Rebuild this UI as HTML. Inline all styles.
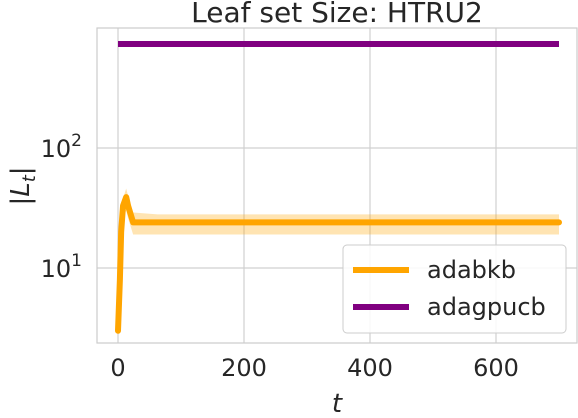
<!DOCTYPE html>
<html><head><meta charset="utf-8"><style>
html,body{margin:0;padding:0;background:#fff;}
svg{display:block;font-family:"DejaVu Sans","Liberation Sans",sans-serif;}
</style></head><body>
<svg id="chart" width="578" height="418" viewBox="0 0 578 418"></svg>
<script>
const xTicks=[0,200,400,600];
const yTicks=[10,100];
const yTickExp=["1","2"];
const tAdabkb=[0,3,5,8,13,16,24,63,700];
const vAdabkb=[3,8,20,33,39,33,24,24,24];
const bandLo=[3,7,17,27,30,26,19,19,19];
const bandHi=[3,9,24,38,46,40,29,28,28];
const tAdagpucb=[0,700];
const vAdagpucb=[735,735];
const ns="http://www.w3.org/2000/svg";
const svg=document.getElementById('chart');
const L=97,R=577,T=28,B=343;
const xs=t=>118+t*0.63;
const ys=v=>268-(Math.log10(v)-1)*120;
function mk(tag,attrs,parent){const e=document.createElementNS(ns,tag);for(const k in attrs)e.setAttribute(k,attrs[k]);(parent||svg).appendChild(e);return e;}
xTicks.forEach(t=>{const g=mk('line',{x1:xs(t),x2:xs(t),y1:T,y2:B,stroke:'#d0d0d0','stroke-width':1.2});


const tx=mk('text',{x:xs(t),y:376,'font-size':24,'text-anchor':'middle',fill:'#262626'});tx.textContent=t;

});
yTicks.forEach((v,i)=>{const g=mk('line',{x1:L,x2:R,y1:ys(v),y2:ys(v),stroke:'#d0d0d0','stroke-width':1.2});


const tx=mk('text',{x:82,y:ys(v)+9,'font-size':24,'text-anchor':'end',fill:'#262626'});tx.textContent='10';
const sp=mk('tspan',{dy:-11,'font-size':17},tx);sp.textContent=yTickExp[i];

});
const fr=mk('rect',{x:L,y:T,width:R-L,height:B-T,fill:'none',stroke:'#cccccc','stroke-width':1.2});


let d='M'+tAdabkb.map((t,i)=>xs(t)+','+ys(bandHi[i])).join('L');
for(let i=tAdabkb.length-1;i>=0;i--)d+='L'+xs(tAdabkb[i])+','+ys(bandLo[i]);
const band=mk('path',{d:d+'Z',fill:'#ffa500','fill-opacity':0.3,stroke:'none'});


const l1=mk('polyline',{points:tAdabkb.map((t,i)=>xs(t)+','+ys(vAdabkb[i])).join(' '),fill:'none',stroke:'#ffa500','stroke-width':6,'stroke-linejoin':'round','stroke-linecap':'round'});


const l2=mk('polyline',{points:tAdagpucb.map((t,i)=>xs(t)+','+ys(vAdagpucb[i])).join(' '),fill:'none',stroke:'#800080','stroke-width':6});


const ti=mk('text',{x:337,y:22,'font-size':28,'text-anchor':'middle',fill:'#262626'});ti.textContent='Leaf set Size: HTRU2';


const xl=mk('text',{x:337,y:412,'font-size':26,'text-anchor':'middle','font-style':'italic',fill:'#262626'});xl.textContent='t';


const yl=mk('text',{x:0,y:0,'font-size':26,'text-anchor':'middle',fill:'#262626',transform:'translate(29,186) rotate(-90)'});
yl.textContent='|';const s1=mk('tspan',{'font-style':'italic'},yl);s1.textContent='L';const s2=mk('tspan',{'font-style':'italic','font-size':18,dy:6},yl);s2.textContent='t';const s3=mk('tspan',{dy:-6},yl);s3.textContent='|';


const lg=mk('g',{});


mk('rect',{x:343,y:245,width:223,height:88,rx:4,fill:'#fff','fill-opacity':0.85,stroke:'#cccccc'},lg);
[['adabkb','#ffa500',270],['adagpucb','#800080',307]].forEach(([n,c,y])=>{
const e=mk('g',{},lg);


mk('line',{x1:353,x2:409,y1:y,y2:y,stroke:c,'stroke-width':6},e);
const t=mk('text',{x:427,y:y+8,'font-size':24,fill:'#262626'},e);t.textContent=n;});
</script>
</body></html>
